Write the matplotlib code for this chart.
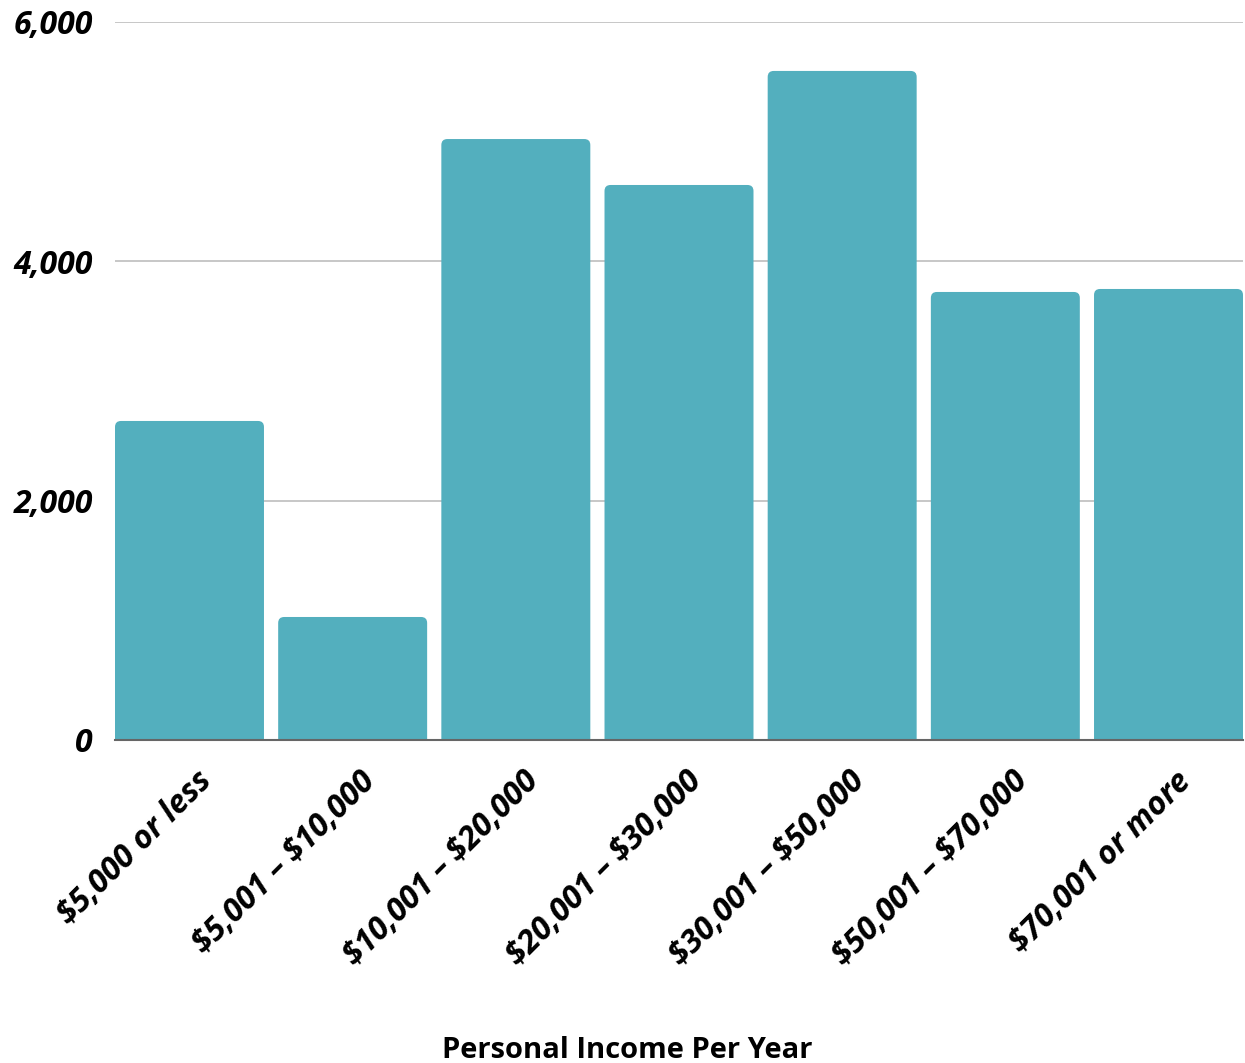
import matplotlib
matplotlib.use("Agg")
import matplotlib.pyplot as plt
import matplotlib.transforms as mtransforms
from matplotlib.patches import FancyBboxPatch

categories = ["\\$5,000 or less", "\\$5,001 – \\$10,000", "\\$10,001 – \\$20,000",
              "\\$20,001 – \\$30,000", "\\$30,001 – \\$50,000", "\\$50,001 – \\$70,000",
              "\\$70,001 or more"]
values = [2666, 1028, 5022, 4638, 5591, 3744, 3769]
yticks = [0, 2000, 4000, 6000]
ytick_labels = ["0", "2,000", "4,000", "6,000"]
xlabel = "Personal Income Per Year"

color = "#53AFBE"
W, H = 1245, 1063
fig = plt.figure(figsize=(W / 100, H / 100), dpi=100)
ax = fig.add_axes([115 / W, (H - 740) / H, (1243 - 115) / W, (740 - 22) / H])

width = 0.913
xs = list(range(len(categories)))
ax.set_xlim(-width / 2, len(categories) - 1 + width / 2)
ax.set_ylim(0, 6000)

# pixel scales for rounded corners
x_px = (1243 - 115) / (len(categories) - 1 + width)
y_px = (740 - 22) / 6000
r_px = 6
rx = r_px / x_px
aspect = (r_px / y_px) / rx

for x, v in zip(xs, values):
    p = FancyBboxPatch((x - width / 2, -300), width, v + 300,
                       boxstyle=f"round,pad=0,rounding_size={rx}",
                       mutation_aspect=aspect, facecolor=color,
                       edgecolor="none", zorder=2, clip_on=True)
    ax.add_patch(p)

ax.set_yticks(yticks)
ax.set_yticklabels(ytick_labels, fontfamily="Open Sans", fontweight="bold",
                   fontstyle="italic", fontsize=23)
ax.set_xticks(xs)
ax.set_xticklabels(categories, fontfamily="Open Sans", fontweight="bold",
                   fontstyle="italic", fontsize=23, rotation=45, ha="right",
                   rotation_mode="anchor")
ax.tick_params(axis="both", length=0)
ax.tick_params(axis="y", pad=16)
ax.tick_params(axis="x", pad=18)
offset = mtransforms.ScaledTranslation(0.06, 0, fig.dpi_scale_trans)
for lab in ax.get_xticklabels():
    lab.set_transform(lab.get_transform() + offset)

ax.grid(axis="y", color="#BDBDBD", linewidth=1.2, zorder=0)
ax.set_axisbelow(True)
for s in ["top", "right", "left"]:
    ax.spines[s].set_visible(False)
ax.spines["bottom"].set_color("#666666")
ax.spines["bottom"].set_linewidth(1.5)
ax.spines["bottom"].set_zorder(3)

fig.text((441 + 813) / 2 / W, 1 - 1050 / H, xlabel, fontfamily="Open Sans",
         fontweight="bold", fontsize=21, ha="center", va="center")

fig.savefig("out.png", dpi=100, facecolor="white")
